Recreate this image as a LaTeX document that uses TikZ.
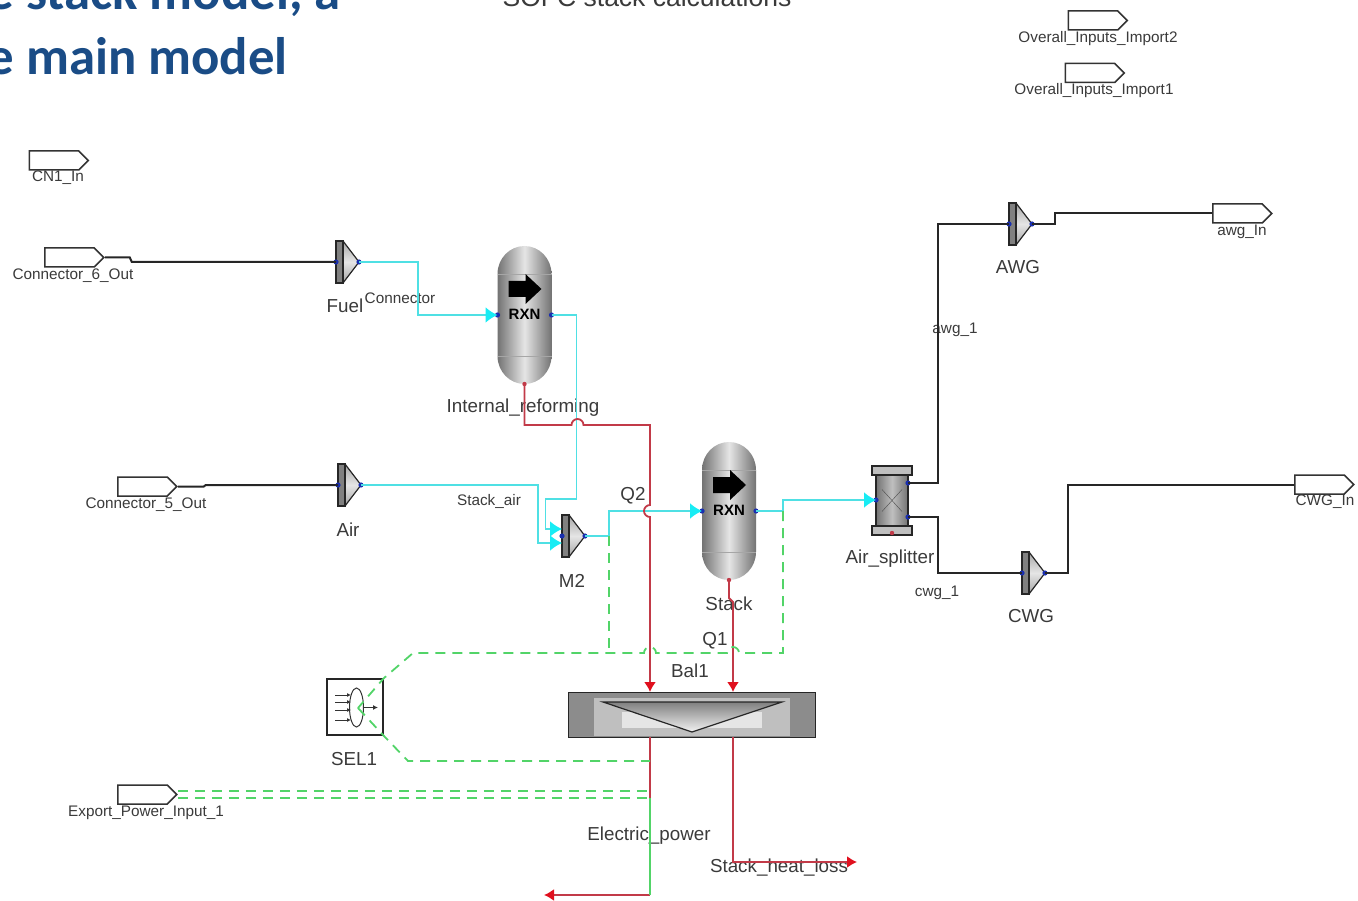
\documentclass[tikz,border=0pt]{standalone}
\usepackage{fontspec}
\setmainfont{Liberation Sans}
\newfontfamily\titlefont{Carlito}
\usetikzlibrary{arrows.meta,shapes.symbols,shapes.geometric}

\definecolor{titleblue}{HTML}{1A4C86}
\definecolor{labelgray}{HTML}{3A3A3A}
\definecolor{matcyan}{HTML}{4FE0E4}
\definecolor{tipcyan}{HTML}{18ECF4}
\definecolor{heatred}{HTML}{C23A48}
\definecolor{tipred}{HTML}{E0101E}
\definecolor{workgreen}{HTML}{52D468}
\definecolor{portblue}{HTML}{1A2FB0}

\tikzset{
  portbox/.style={draw=black!80,line width=1.5pt,fill=white,shape=signal,signal to=east,signal from=nowhere,
    minimum width=59pt,minimum height=19pt,inner sep=0pt},
  blocklabel/.style={text=labelgray,inner sep=0pt,yshift=-1.5pt,font=\fontsize{18.8}{20}\selectfont},
  streamlabel/.style={text=labelgray,inner sep=0pt,yshift=-1.5pt,font=\fontsize{15.3}{17}\selectfont},
  blackline/.style={draw=black!85,line width=2pt},
  matline/.style={draw=matcyan,line width=1.8pt},
  matarrow/.style={matline,-{Latex[length=12pt,width=16pt,color=tipcyan]}},
  heatline/.style={draw=heatred,line width=1.8pt},
  heatarrow/.style={heatline,-{Latex[length=10pt,width=12pt,color=tipred]}},
  workdash/.style={draw=workgreen,line width=1.8pt,dash pattern=on 10pt off 7pt},
  portdot/.style={fill=portblue,draw=none},
  mixerblock/.pic={
    \path[top color=black!35,bottom color=black!35,middle color=black!10,draw=black!85,line width=1.2pt]
      (-9,-21) -- (-2,-21) -- (14,0) -- (-2,21) -- (-9,21) -- cycle;
    \fill[black!50] (-9,-21) rectangle (-2,21);
    \draw[black!85,line width=1.2pt] (-9,-21) rectangle (-2,21);
    \fill[portdot] (-9,0) circle (2.6) (14,0) circle (2.6);
    \coordinate (-in) at (-9,0);
    \coordinate (-out) at (14,0);
    \coordinate (-in up) at (-9,-7);
    \coordinate (-in low) at (-9,7);
  },
  reactorblock/.pic={
    \path[left color=black!55,right color=black!55,middle color=black!10]
      (-27,-41) arc[start angle=180,end angle=360,x radius=27,y radius=28]
      -- (27,41) arc[start angle=0,end angle=180,x radius=27,y radius=28] -- cycle;
    \draw[black!35] (-27,-41) -- (27,-41) (-27,41) -- (27,41);
    \fill[black] (-16,-34) -- (1,-34) -- (1,-41) -- (17,-26) -- (1,-11) -- (1,-18) -- (-16,-18) -- cycle;
    \node[inner sep=0pt,font=\bfseries\fontsize{15}{16}\selectfont] (-rxn) at (0,-1) {RXN};
    \fill[portdot] (-27,0) circle (2.6) (27,0) circle (2.6);
    \fill[heatred] (0,69) circle (2.2);
    \coordinate (-in) at (-27,0);
    \coordinate (-out) at (27,0);
    \coordinate (-bot) at (0,69);
  },
}

\begin{document}
\begin{tikzpicture}[x=1pt,y=-1pt,>=Latex]
  \useasboundingbox (0,0) rectangle (1358,901);
  % heading text, cut by the page edge
  \node[anchor=base east,inner sep=0pt,text=titleblue,font=\titlefont\bfseries\fontsize{52.8}{54}\selectfont] (headone) at (341,10) {e stack model, a};
  \node[anchor=base east,inner sep=0pt,text=titleblue,font=\titlefont\bfseries\fontsize{52.8}{54}\selectfont] (headtwo) at (288,75) {e main model};
  \node[anchor=base,inner sep=0pt,text=labelgray,font=\fontsize{26.5}{28}\selectfont] (headthree) at (647,7) {SOFC stack calculations};

  % labels go under the streams
  \node[blocklabel] (fuellabel) at (345,304) {Fuel};
  \node[streamlabel] (connlabel) at (400,297) {Connector};
  \node[blocklabel] (reformlabel) at (523,406) {Internal\_reforming};
  \node[blocklabel] (airlabel) at (348,528) {Air};
  \node[streamlabel] (stackairlabel) at (489,500) {Stack\_air};
  \node[blocklabel] (qtwolabel) at (633,494) {Q2};
  \node[blocklabel] (mtwolabel) at (572,579) {M2};
  \node[blocklabel] (stacklabel) at (729,602) {Stack};
  \node[blocklabel] (qonelabel) at (715,639) {Q1};
  \node[blocklabel] (ballabel) at (690,669) {Bal1};
  \node[blocklabel] (sellabel) at (354,758) {SEL1};
  \node[blocklabel] (eleclabel) at (649,834) {Electric\_power};
  \node[blocklabel] (losslabel) at (779,866) {Stack\_heat\_loss};
  \node[blocklabel] (splitlabel) at (890,557) {Air\_splitter};
  \node[blocklabel] (awglabel) at (1018,266) {AWG};
  \node[blocklabel] (cwglabel) at (1031,615) {CWG};
  \node[streamlabel] (awgonelabel) at (955,328) {awg\_1};
  \node[streamlabel] (cwgonelabel) at (937,591) {cwg\_1};

  % ports
  \node[portbox] (cnone) at (54,160.5) {};
  \node[portbox] (connsix) at (69.5,257.5) {};
  \node[portbox] (connfive) at (142.5,486.5) {};
  \node[portbox] (export) at (142.5,794.5) {};
  \node[portbox] (awgin) at (1237.5,213.5) {};
  \node[portbox] (cwgin) at (1319.5,484.5) {};
  \node[portbox] (importtwo) at (1093,20.5) {};
  \node[portbox] (importone) at (1090,73) {};
  \node[streamlabel] (cnonelabel) at (58,176) {CN1\_In};
  \node[streamlabel] (connsixlabel) at (73,274) {Connector\_6\_Out};
  \node[streamlabel] (connfivelabel) at (146,503) {Connector\_5\_Out};
  \node[streamlabel] (exportlabel) at (146,811) {Export\_Power\_Input\_1};
  \node[streamlabel] (awginlabel) at (1242,230) {awg\_In};
  \node[streamlabel] (cwginlabel) at (1325,500) {CWG\_In};
  \node[streamlabel] (importtwolabel) at (1098,37) {Overall\_Inputs\_Import2};
  \node[streamlabel] (importonelabel) at (1094,89) {Overall\_Inputs\_Import1};

  % blocks
  \pic (fuel) at (345,262) {mixerblock};
  \pic (air) at (347,485) {mixerblock};
  \pic (mtwo) at (571,536) {mixerblock};
  \pic (awg) at (1018,224) {mixerblock};
  \pic (cwg) at (1031,573) {mixerblock};
  \pic (reform) at (524.5,315) {reactorblock};
  \pic (stack) at (729,511) {reactorblock};

  % splitter
  \node[draw=black!85,line width=1.2pt,left color=black!55,right color=black!55,middle color=black!25,minimum width=32pt,minimum height=51pt,inner sep=0pt] (split) at (892,500.5) {};
  \node[draw=black!85,line width=1.2pt,fill=black!25,minimum width=40pt,minimum height=9pt,inner sep=0pt] (splittop) at (892,470.5) {};
  \node[draw=black!85,line width=1.2pt,fill=black!25,minimum width=40pt,minimum height=9pt,inner sep=0pt] (splitbot) at (892,530.5) {};
  \draw[black!70] (split.center) ++(-10,-11) -- ++(20,22) (split.center) ++(10,-11) -- ++(-20,22);
  \coordinate (splitin) at (876,500);
  \coordinate (splitup) at (908,483);
  \coordinate (splitlow) at (908,517);
  \fill[portdot] (splitin) circle (2.6) (splitup) circle (2.6) (splitlow) circle (2.6);
  \fill[heatred] (892,533) circle (2.2);

  % balance block
  \node[draw=black!85,line width=1pt,fill=black!45,minimum width=247pt,minimum height=45pt,inner sep=0pt] (bal) at (691.5,714.5) {};
  \fill[black!25] (594,698) rectangle (790,736);
  \fill[black!10] (622,712) rectangle (762,728);
  \path[top color=black!50,bottom color=black!5,draw=black!85,line width=1.2pt] (603,702) -- (782,702) -- (692,732) -- cycle;
  \coordinate (balinone) at (650,692);
  \coordinate (balintwo) at (733,692);
  \coordinate (baloutone) at (650,737);
  \coordinate (balouttwo) at (733,737);

  % selector
  \node[draw=black!85,line width=1.2pt,minimum width=56pt,minimum height=56pt,inner sep=0pt] (sel) at (355,707) {};
  \node[draw=black!80,line width=1pt,ellipse,minimum width=14pt,minimum height=39pt,inner sep=0pt] (selring) at (356.5,707.5) {};
  \foreach \yy in {695,702,710,720} {
    \draw[black!80,line width=1pt,-{Latex[length=4pt,width=4pt]}] (335,\yy) -- (351,\yy);
  }
  \draw[black!80,line width=1pt,-{Latex[length=5pt,width=5pt]}] (selring.east) -- ++(14,0);

  % black streams
  \draw[blackline] (connsix.east) -- ++(25,0) -- ++(2,4.5) -- (fuel-in);
  \draw[blackline] (connfive.east) -- ++(26,0) -- ++(2,-1.5) -- (air-in);
  \draw[blackline] (splitup) -- ++(30,0) |- (awg-in);
  \draw[blackline] (splitlow) -- ++(30,0) |- (cwg-in);
  \draw[blackline] (awg-out) -- ++(23,0) |- (awgin.west);
  \draw[blackline] (cwg-out) -- ++(23,0) |- (cwgin.west);

  % material streams
  \draw[matarrow] (fuel-out) -- ++(59,0) |- (reform-in);
  \draw[matarrow] (reform-out) -- ++(25,0) -- ++(0,184) -- ++(-31,0) |- (mtwo-in up);
  \draw[matarrow] (air-out) -- ++(177,0) |- (mtwo-in low);
  \draw[matarrow] (mtwo-out) -- ++(24,0) |- (stack-in);
  \draw[matarrow] (stack-out) -- ++(27,0) |- (splitin);

  % heat streams
  \draw[heatarrow] (reform-bot) -- ++(0,41) -- ++(47,0) arc[start angle=180,end angle=360,radius=6] -| (650,505)
    arc[start angle=270,end angle=90,radius=6] -- (balinone);
  \draw[heatarrow] (stack-bot) -- ++(0,18) -- ++(4,4) -- (balintwo);
  \draw[heatline] (baloutone) -- ++(0,158) coordinate (elecend);
  \draw[heatarrow] (balouttwo) |- (857,862);
  \draw[heatarrow] (elecend) -- ++(-106,0);

  % work streams
  \coordinate (qonesrc) at (783,511);
  \coordinate (qtwosrc) at (609,536);
  \coordinate (selmid) at (358,708);
  \draw[workdash] (qonesrc) -- ++(0,142) -- ++(-44,0) arc[start angle=360,end angle=180,radius=6] -- ++(-71,0)
    arc[start angle=360,end angle=180,radius=6] -- (413,653) -- (sel.north east) -- (selmid);
  \draw[workdash] (qtwosrc) -- ++(0,117);
  \draw[workdash] (selmid) -- (sel.south east) -- (408,761) -- (650,761);
  \draw[workdash] ([yshift=3.5pt]export.east) -- (650,791);
  \draw[workdash] ([yshift=-3.5pt]export.east) -- (650,798);
  \draw[draw=workgreen,line width=1.8pt] (650,798) -- (elecend);
\end{tikzpicture}
\end{document}
